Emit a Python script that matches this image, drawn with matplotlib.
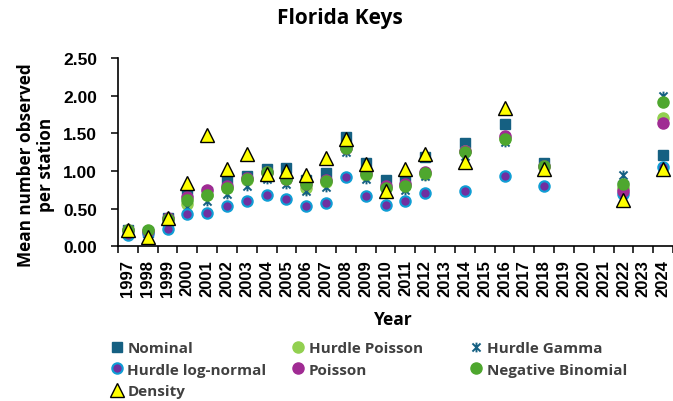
import numpy as np
import matplotlib
matplotlib.use('Agg')
import matplotlib.pyplot as plt
from matplotlib.path import Path

# Colores estilo Excel
COLOR_NOMINAL = '#156082'
COLOR_HPOISSON = '#92D050'
COLOR_HGAMMA = '#156082'
COLOR_LOGN_FILL = '#7030A0'
COLOR_LOGN_EDGE = '#0F9ED5'
COLOR_POISSON = '#A02B93'
COLOR_NEGBIN = '#4EA72E'
COLOR_DENSITY = '#FFFF00'
COLOR_TEXTO = '#000000'
COLOR_LEYENDA = '#404040'

nan = np.nan
years = list(range(1997, 2025))

nominal = [0.22, 0.19, 0.38, 0.72, 0.72, 0.89, 0.94, 1.03, 1.04, 0.88, 0.97, 1.45, 1.11, 0.88,
           0.90, 1.18, nan, 1.37, nan, 1.62, nan, 1.10, nan, nan, nan, 0.80, nan, 1.21]
hurdle_poisson = [0.21, 0.20, 0.36, 0.56, 0.68, 0.78, 0.88, 0.97, 0.89, 0.77, 0.86, 1.30, 0.95, 0.78,
                  0.82, 0.96, nan, 1.26, nan, 1.44, nan, 1.05, nan, nan, nan, 0.78, nan, 1.70]
hurdle_gamma = [0.19, 0.18, 0.34, 0.52, 0.60, 0.70, 0.80, 0.90, 0.83, 0.74, 0.79, 1.25, 0.89, 0.74,
                0.75, 0.93, nan, 1.20, nan, 1.38, nan, 1.02, nan, nan, nan, 0.95, nan, 1.99]
hurdle_lognormal = [0.15, 0.18, 0.23, 0.43, 0.44, 0.53, 0.60, 0.68, 0.63, 0.53, 0.57, 0.92, 0.67, 0.55,
                    0.60, 0.71, nan, 0.74, nan, 0.93, nan, 0.80, nan, nan, nan, 0.69, nan, 1.05]
poisson = [0.21, 0.20, 0.37, 0.66, 0.75, 0.80, 0.91, 0.99, 0.90, 0.83, 0.88, 1.31, 0.97, 0.80,
           0.83, 0.98, nan, 1.27, nan, 1.47, nan, 1.06, nan, nan, nan, 0.74, nan, 1.64]
neg_binomial = [0.21, 0.21, 0.36, 0.61, 0.68, 0.78, 0.90, 0.98, 0.89, 0.83, 0.87, 1.30, 0.96, 0.77,
                0.80, 0.97, nan, 1.25, nan, 1.43, nan, 1.06, nan, nan, nan, 0.83, nan, 1.91]
density = [0.22, 0.13, 0.38, 0.84, 1.48, 1.03, 1.22, 0.96, 1.00, 0.95, 1.17, 1.43, 1.09, 0.74,
           1.03, 1.22, nan, 1.12, nan, 1.84, nan, 1.03, nan, nan, nan, 0.61, nan, 1.03]

y_ticks = [0.0, 0.5, 1.0, 1.5, 2.0, 2.5]

# Marcador "estrella" de Excel: una X con una linea vertical
star_marker = Path([(-1, -1), (1, 1), (-1, 1), (1, -1), (0, -1.2), (0, 1.2)],
                   [Path.MOVETO, Path.LINETO, Path.MOVETO, Path.LINETO, Path.MOVETO, Path.LINETO])

x = np.arange(len(years))

fig = plt.figure(figsize=(6.73, 4.02), dpi=100)
ax = fig.add_axes([0.1753, 0.3848, 0.8247, 0.4684])

kw = dict(linestyle='none')
h_nom, = ax.plot(x, nominal, marker='s', markersize=7.5, color=COLOR_NOMINAL, label='Nominal', **kw)
h_hp, = ax.plot(x, hurdle_poisson, marker='o', markersize=8, color=COLOR_HPOISSON, label='Hurdle Poisson', **kw)
h_hg, = ax.plot(x, hurdle_gamma, marker=star_marker, markersize=7, markeredgewidth=1.4,
                color=COLOR_HGAMMA, markerfacecolor='none', label='Hurdle Gamma', **kw)
h_ln, = ax.plot(x, hurdle_lognormal, marker='o', markersize=7.5, markerfacecolor=COLOR_LOGN_FILL,
                markeredgecolor=COLOR_LOGN_EDGE, markeredgewidth=1.5, label='Hurdle log-normal', **kw)
h_po, = ax.plot(x, poisson, marker='o', markersize=8, color=COLOR_POISSON, label='Poisson', **kw)
h_nb, = ax.plot(x, neg_binomial, marker='o', markersize=8, color=COLOR_NEGBIN, label='Negative Binomial', **kw)
h_de, = ax.plot(x, density, marker='^', markersize=10, markerfacecolor=COLOR_DENSITY,
                markeredgecolor='black', markeredgewidth=1.0, label='Density', **kw)

ax.set_xlim(-0.5, len(years) - 0.5)
ax.set_ylim(0, 2.5)
ax.set_yticks(y_ticks)
ax.set_yticklabels([f'{v:.2f}' for v in y_ticks], fontsize=12.5, fontweight='bold',
                   family='Liberation Sans', color=COLOR_TEXTO)
ax.set_xticks(x)
ax.set_xticklabels([str(y) for y in years], rotation=90, fontsize=12, fontweight='bold',
                   family='Liberation Sans', color=COLOR_TEXTO)
ax.set_xticks(np.arange(-0.5, len(years)), minor=True)
ax.tick_params(axis='x', which='major', length=0, pad=9)
ax.tick_params(axis='x', which='minor', length=5, width=1.1, direction='out')
ax.tick_params(axis='y', length=5, width=1.1, direction='out', pad=10)

for s in ['top', 'right']:
    ax.spines[s].set_visible(False)
for s in ['left', 'bottom']:
    ax.spines[s].set_linewidth(1.2)
    ax.spines[s].set_color('black')

fig.text(0.505, 0.955, 'Florida Keys', ha='center', va='center', fontsize=15,
         fontweight='bold', family='Open Sans', color=COLOR_TEXTO)
fig.text(0.054, 0.59, 'Mean number observed\nper station', rotation=90, ha='center', va='center',
         fontsize=12.3, fontweight='bold', family='Open Sans', color=COLOR_TEXTO, linespacing=1.15)
fig.text(0.585, 0.205, 'Year', ha='center', va='center', fontsize=12.5,
         fontweight='bold', family='Open Sans', color=COLOR_TEXTO)

# Leyenda en tres columnas, cada una colocada a mano como en Excel
columnas = [([h_nom, h_ln, h_de], 0.155), ([h_hp, h_po], 0.4245), ([h_hg, h_nb], 0.6895)]
for hs, xpos in columnas:
    leg = fig.legend(handles=hs, loc='upper left', bbox_to_anchor=(xpos, 0.168),
                     frameon=False, handlelength=0.6, handletextpad=0.4,
                     labelspacing=0.5, borderpad=0,
                     prop={'family': 'Open Sans', 'weight': 'bold', 'size': 11})
    for t in leg.get_texts():
        t.set_color(COLOR_LEYENDA)

fig.savefig('out.png', dpi=100)
